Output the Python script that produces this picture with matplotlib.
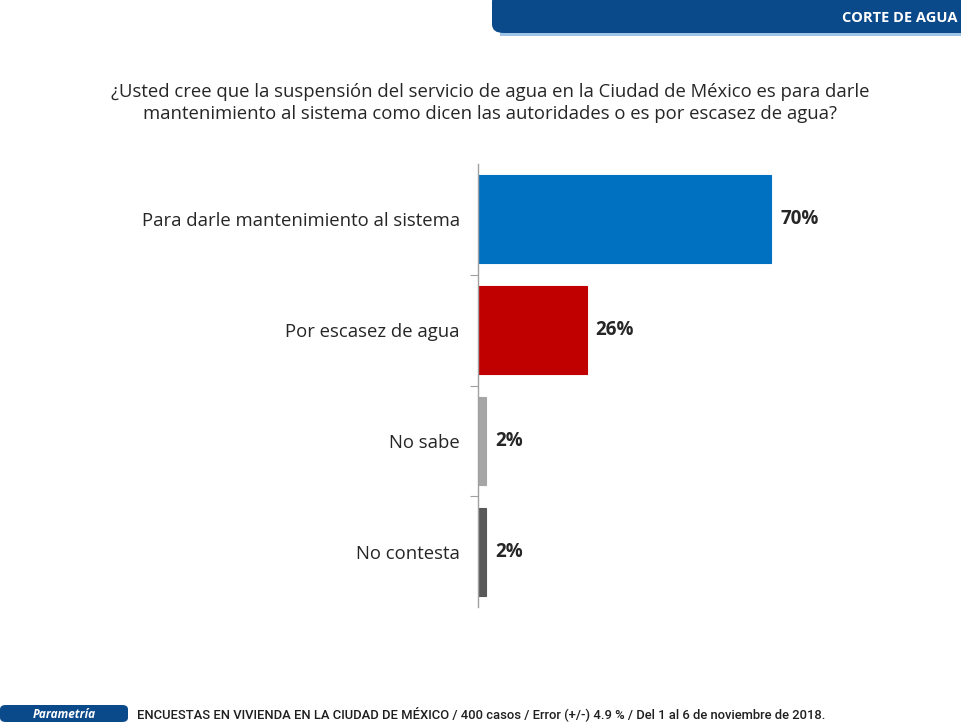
import matplotlib
matplotlib.use("Agg")
import matplotlib.pyplot as plt
from matplotlib.patches import FancyBboxPatch, Rectangle

categories = ["Para darle mantenimiento al sistema", "Por escasez de agua", "No sabe", "No contesta"]
values = [70, 26, 2, 2]
value_labels = ["70%", "26%", "2%", "2%"]
colors = ["#0070C0", "#C00000", "#A6A6A6", "#595959"]
title = ("¿Usted cree que la suspensión del servicio de agua en la Ciudad de México es para darle\n"
         "mantenimiento al sistema como dicen las autoridades o es por escasez de agua?")
header = "CORTE DE AGUA"
footer_brand = "Parametría"
footer = "ENCUESTAS EN VIVIENDA EN LA CIUDAD DE MÉXICO / 400 casos / Error (+/-) 4.9 % / Del 1 al 6 de noviembre de 2018."

W, H = 962, 725
fig = plt.figure(figsize=(W / 100, H / 100), dpi=100)
fig.patch.set_facecolor("white")
font = ["Open Sans", "DejaVu Sans"]

# axes: x from 478 to 897 px, y from 164 to 607 px
ax = fig.add_axes([478 / W, 1 - 607 / H, 419 / W, 443 / H])
ax.set_facecolor("none")
ypos = list(range(len(categories)))
ax.barh(ypos, values, height=0.795, color=colors, edgecolor=colors, linewidth=0.8)
ax.set_xlim(0, 100)
ax.set_ylim(len(categories) - 0.5, -0.5)
for y, v, lab in zip(ypos, values, value_labels):
    ax.text(v + 2.1, y, lab, va="center", ha="left", fontsize=13.5, fontweight="bold",
            color="#262626", family=font)
ax.set_yticks(ypos)
ax.set_yticklabels(categories, family=font, fontsize=13.3, color="#262626")
ax.tick_params(axis="y", length=0, pad=13)
ax.set_yticks([0.5, 1.5, 2.5], minor=True)
ax.tick_params(axis="y", which="minor", length=6, color="#A0A0A0", width=0.8)
ax.set_xticks([])
for s in ["top", "right", "bottom"]:
    ax.spines[s].set_visible(False)
ax.spines["left"].set_color("#A0A0A0")
ax.spines["left"].set_linewidth(1.0)

# title
fig.text(490 / W, 1 - 103 / H, title, ha="center", va="center", fontsize=13.3, color="#262626",
         family=font, linespacing=1.3)

# header band
hdr = FancyBboxPatch((492 / W, 1 - 33 / H), 1.0, 40 / H, boxstyle="round,pad=0,rounding_size=0.012",
                     transform=fig.transFigure, facecolor="#0B4A8A", edgecolor="none")
fig.patches.append(hdr)
fig.patches.append(Rectangle((500 / W, 1 - 36 / H), 1.0, 3 / H, transform=fig.transFigure,
                             facecolor="#9DC3E6", edgecolor="none"))
fig.text(958 / W, 1 - 18 / H, header, ha="right", va="center", fontsize=10.5, fontweight="bold",
         color="white", family=font)

# footer
fig.patches.append(FancyBboxPatch((0, 1 - 722 / H), 128 / W, 17 / H,
                                  boxstyle="round,pad=0,rounding_size=0.006",
                                  transform=fig.transFigure, facecolor="#0B4A8A", edgecolor="none"))
fig.text(64 / W, 1 - 714 / H, footer_brand, ha="center", va="center", fontsize=8.5,
         fontweight="bold", style="italic", color="white", family=font)
fig.text(137 / W, 1 - 714 / H, footer, ha="left", va="center", fontsize=9.4, color="#1F1F1F",
         family=["Roboto", "DejaVu Sans"], fontweight="medium")

fig.savefig("out.png", dpi=100, facecolor="white")
